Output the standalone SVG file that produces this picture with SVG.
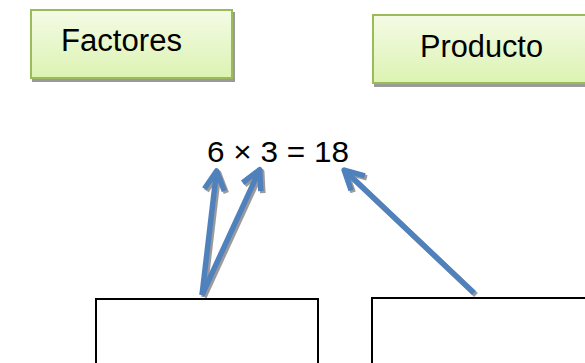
<svg xmlns="http://www.w3.org/2000/svg" width="585" height="363" viewBox="0 0 585 363">
<style>
.lbl{font-family:"Liberation Sans",Arial,sans-serif;fill:#000}
.hdr{fill:url(#g);stroke:#9BBB59;stroke-width:2;filter:url(#sh)}
.blank{fill:#fff;stroke:#000;stroke-width:2}
.conn{fill:none;stroke:#4F81BD;stroke-width:5.5;marker-end:url(#ah)}
</style>
<defs>
<linearGradient id="g" x1="0" y1="0" x2="0" y2="1">
<stop offset="0" stop-color="#F4FBE6"/>
<stop offset="1" stop-color="#DCF3B2"/>
</linearGradient>
<filter id="sh" x="-10%" y="-10%" width="130%" height="140%">
<feOffset in="SourceAlpha" dx="2" dy="3" result="o"/>
<feFlood flood-color="#9a9a9a"/>
<feComposite in2="o" operator="in" result="s"/>
<feMerge><feMergeNode in="s"/><feMergeNode in="SourceGraphic"/></feMerge>
</filter>
<filter id="lsh" x="-20%" y="-20%" width="140%" height="140%">
<feOffset in="SourceAlpha" dx="2" dy="2" result="o"/>
<feFlood flood-color="#9a9a9a"/>
<feComposite in2="o" operator="in" result="s"/>
<feMerge><feMergeNode in="s"/><feMergeNode in="SourceGraphic"/></feMerge>
</filter>
<marker id="ah" markerUnits="userSpaceOnUse" viewBox="-25 -15 30 30" refX="0" refY="0" markerWidth="30" markerHeight="30" orient="auto">
<path d="M -19 -10 L 0 0 L -19 10" fill="none" stroke="#4F81BD" stroke-width="5.5" stroke-linejoin="round"/>
</marker>
</defs>
<rect width="585" height="363" fill="#fff"/>
<g id="factores">
<rect class="hdr" x="31" y="10" width="201" height="68"/>
<text class="lbl" x="61" y="51" font-size="31" textLength="121" lengthAdjust="spacingAndGlyphs">Factores</text>
</g>
<g id="producto">
<rect class="hdr" x="373" y="15" width="220" height="68"/>
<text class="lbl" x="420" y="57" font-size="31" textLength="123" lengthAdjust="spacingAndGlyphs">Producto</text>
</g>
<g id="equation">
<text class="lbl" x="207" y="162" font-size="30" textLength="142" lengthAdjust="spacingAndGlyphs">6 × 3 = 18</text>
</g>
<g id="box-factores">
<rect class="blank" x="96" y="299" width="222" height="80"/>
</g>
<g id="box-producto">
<rect class="blank" x="372" y="298" width="230" height="80"/>
</g>
<g id="connectors" filter="url(#lsh)">
<path class="conn" d="M 202 295 L 216.6 171"/>
<path class="conn" d="M 202 295 L 259.7 169.7"/>
<path class="conn" d="M 474 293 L 344.2 170.1"/>
</g>
</svg>
